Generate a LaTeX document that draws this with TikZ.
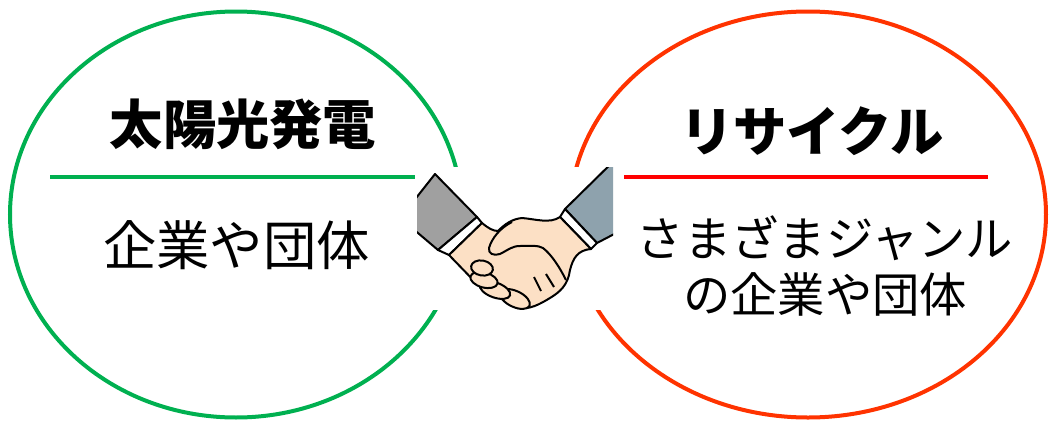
\documentclass[tikz,border=0pt]{standalone}
\usepackage{fontspec}
\setmainfont{Noto Sans CJK JP}
\usetikzlibrary{shapes.geometric}

\definecolor{solargreen}{RGB}{0,176,80}
\definecolor{recyclered}{RGB}{255,51,0}
\definecolor{linered}{RGB}{255,0,0}
\definecolor{skin}{RGB}{252,224,197}
\definecolor{suitgray}{RGB}{160,160,160}
\definecolor{suitblue}{RGB}{142,162,173}

\begin{document}
\begin{tikzpicture}[x=0.75pt,y=-0.75pt,
  ring/.style={ellipse,draw,line width=3pt,inner sep=0pt},
  title node/.style={font=\fontsize{40}{48}\selectfont\bfseries,inner sep=0pt},
  body node/.style={font=\fontsize{40}{48}\selectfont,inner sep=0pt,align=center},
  hand/.style={draw=black,line width=1.5pt,line join=round}]

  \useasboundingbox (0,0) rectangle (1051,422);

  \node[ring,draw=solargreen,minimum width=339pt,minimum height=304.5pt] (solar) at (236,214.5) {};
  \node[ring,draw=recyclered,minimum width=357pt,minimum height=304.5pt] (recycle) at (808,214.5) {};

  \node[title node] (solarTitle) at (243,124) {太陽光発電};
  \draw[solargreen,line width=3pt] (50,177) -- (415,177);
  \node[body node] (solarBody) at (236.5,245.5) {企業や団体};

  \node[title node] (recycleTitle) at (812,131) {リサイクル};
  \draw[linered,line width=3pt] (624,177) -- (988,177);
  \node[body node,font=\fontsize{35.5}{42}\selectfont] (recycleBody) at (825,265.5) {さまざまジャンル\\の企業や団体};

  % handshake
  \fill[white] (416,167) rectangle (614,310);
  \begin{scope}
    \clip (417,167) rectangle (613,310);
    \filldraw[hand,fill=suitgray] (405,212) -- (435,174) -- (477,217) -- (438,250) -- (405,222) -- cycle;
    \filldraw[hand,fill=white] (477,217) -- (482,223) -- (449,255) -- (438,250) -- cycle;
    \filldraw[hand,fill=suitblue] (565,209) -- (625,150) -- (645,218) -- (597,243) -- cycle;
    \filldraw[hand,fill=white] (565,209) -- (597,243) -- (591,249) -- (560,217) -- cycle;
  \end{scope}
  \filldraw[hand,fill=skin] (482,223) .. controls (488,228) and (493,231) .. (498,231)
    .. controls (505,224) and (512,219) .. (522,218)
    .. controls (535,219) and (550,224) .. (560,217)
    -- (591,249)
    .. controls (578,250) and (573,258) .. (570,270)
    .. controls (568,285) and (560,292) .. (550,298)
    .. controls (540,304) and (530,310) .. (517,308)
    -- (478,285) -- (449,255) -- cycle;
  \fill[skin] (512,222) .. controls (500,228) and (492,238) .. (489,248)
    .. controls (488,254) and (494,256) .. (500,254) -- (517,246) -- (530,235) -- cycle;
  \draw[hand] (512,222) .. controls (500,228) and (492,238) .. (489,248)
    .. controls (488,254) and (494,256) .. (500,254)
    .. controls (508,250) and (512,246) .. (520,246)
    .. controls (530,246) and (538,245) .. (543,248)
    .. controls (552,255) and (560,268) .. (566,280);
  \draw[hand] (546,274) -- (554,287);
  \draw[hand] (534,277) -- (541,291);
  % fingers round the wrist
  \filldraw[hand,fill=skin,rotate around={-25:(515,299)}] (515,299) ellipse [x radius=16, y radius=8];
  \filldraw[hand,fill=skin,rotate around={-20:(495,290)}] (495,290) ellipse [x radius=16, y radius=7.5];
  \filldraw[hand,fill=skin,rotate around={-15:(484,280)}] (484,280) ellipse [x radius=14, y radius=7.5];
  \filldraw[hand,fill=skin,rotate around={-10:(482,268)}] (482,268) ellipse [x radius=11, y radius=7.5];
\end{tikzpicture}
\end{document}
